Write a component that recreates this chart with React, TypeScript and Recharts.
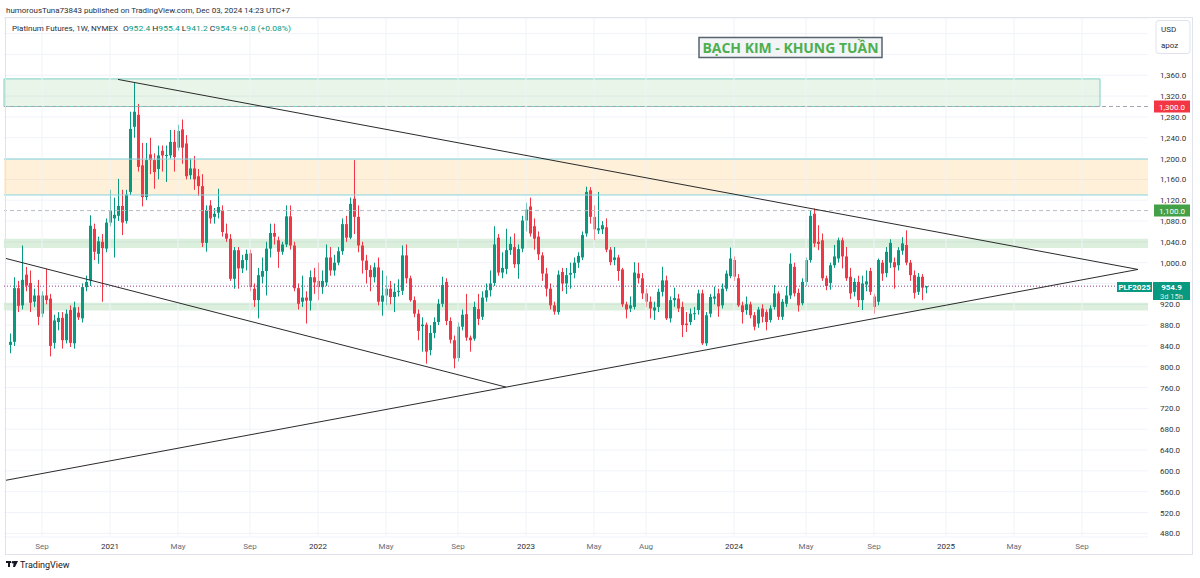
import React from 'react';
import { ComposedChart, Bar, XAxis, YAxis, CartesianGrid, ReferenceLine, ReferenceArea } from 'recharts';

// Weekly Platinum futures candles, first week = 13 Jul 2020 (index 0)
const opens = [
  842, 848, 951, 918, 977, 961, 925, 937, 902, 937,
  931, 846, 886, 894, 851, 909, 845, 904, 893, 953,
  966, 1065, 1017, 1040, 1027, 1077, 1085, 1090, 1109, 1080,
  1136, 1261, 1284, 1187, 1126, 1208, 1197, 1180, 1215, 1205,
  1206, 1232, 1221, 1256, 1229, 1168, 1181, 1166, 1147, 1038,
  1110, 1088, 1096, 1101, 1056, 1046, 969, 1024, 989, 1005,
  1018, 950, 928, 973, 984, 1027, 1057, 1043, 1021, 1035,
  1089, 1033, 951, 925, 933, 927, 972, 965, 953, 962,
  1010, 985, 1000, 1022, 1074, 1048, 1123, 1088, 1033, 1004,
  986, 972, 991, 925, 937, 950, 934, 944, 946, 1014,
  970, 928, 902, 878, 881, 832, 865, 886, 921, 963,
  888, 851, 817, 877, 901, 856, 854, 911, 896, 933,
  947, 961, 1048, 981, 988, 1024, 1030, 997, 1027, 1081,
  1108, 1070, 1050, 1014, 979, 950, 918, 905, 982, 960,
  977, 980, 1000, 1010, 1056, 1139, 1088, 1062, 1064, 1068,
  1025, 1005, 1010, 987, 920, 912, 915, 979, 970, 941,
  925, 908, 915, 944, 966, 893, 928, 931, 915, 883,
  886, 901, 909, 941, 845, 902, 931, 941, 918, 950,
  974, 1005, 970, 918, 909, 920, 899, 883, 912, 905,
  890, 915, 941, 896, 921, 937, 992, 942, 922, 963,
  1005, 1094, 1040, 1043, 970, 961, 995, 1008, 1043, 1012,
  973, 944, 963, 928, 958, 984, 935, 925, 1000, 980,
  1000, 1001, 995, 1023, 1034, 1000, 976, 944, 973, 952.4,
];
const highs = [
  864, 972, 965, 1033, 992, 985, 950, 967, 945, 988,
  940, 900, 905, 905, 910, 918, 925, 915, 960, 975,
  1091, 1075, 1050, 1055, 1085, 1140, 1125, 1161, 1140, 1140,
  1290, 1345, 1305, 1230, 1230, 1240, 1210, 1225, 1225, 1225,
  1255, 1255, 1265, 1275, 1245, 1200, 1205, 1180, 1170, 1110,
  1120, 1105, 1142, 1110, 1075, 1055, 1030, 1030, 1015, 1025,
  1025, 960, 990, 1010, 1040, 1075, 1075, 1050, 1040, 1110,
  1110, 1040, 960, 975, 945, 985, 990, 1000, 985, 1035,
  1030, 1015, 1030, 1085, 1090, 1125, 1197, 1110, 1040, 1015,
  995, 1000, 1010, 985, 975, 965, 960, 968, 1033, 1035,
  975, 935, 910, 895, 885, 880, 895, 930, 973, 970,
  895, 860, 885, 910, 940, 860, 925, 940, 945, 960,
  985, 1070, 1055, 1020, 1065, 1050, 1056, 1035, 1090, 1115,
  1125, 1085, 1060, 1020, 990, 960, 925, 985, 990, 990,
  1000, 1010, 1020, 1060, 1146, 1145, 1110, 1136, 1080, 1085,
  1030, 1030, 1015, 990, 925, 935, 1001, 1000, 980, 950,
  935, 925, 950, 992, 975, 935, 952, 940, 925, 905,
  912, 915, 948, 948, 905, 940, 954, 950, 960, 985,
  1029, 1012, 978, 925, 935, 925, 905, 915, 920, 910,
  918, 957, 945, 930, 955, 1018, 1000, 950, 970, 1010,
  1101, 1104, 1072, 1056, 975, 1000, 1034, 1048, 1048, 1030,
  990, 970, 975, 975, 985, 990, 940, 1008, 1005, 1030,
  1045, 1010, 1030, 1049, 1062, 1005, 985, 980, 978, 955.4,
];
const lows = [
  826, 840, 905, 910, 945, 905, 915, 880, 895, 920,
  820, 835, 870, 835, 845, 838, 835, 890, 885, 945,
  955, 1005, 998, 925, 1020, 1070, 1010, 1080, 1053, 1075,
  1130, 1240, 1175, 1108, 1120, 1170, 1142, 1160, 1175, 1155,
  1200, 1175, 1215, 1190, 1160, 1160, 1140, 1128, 1030, 1021,
  1075, 1075, 1085, 1050, 1040, 965, 950, 950, 980, 985,
  945, 915, 893, 960, 937, 1010, 1035, 990, 1015, 1030,
  1025, 945, 910, 915, 883, 908, 940, 928, 940, 955,
  975, 975, 995, 1015, 1040, 1045, 1055, 1020, 979, 960,
  945, 962, 918, 898, 918, 920, 905, 935, 938, 960,
  925, 895, 851, 829, 806, 822, 855, 880, 915, 880,
  845, 797, 810, 870, 850, 829, 850, 880, 890, 925,
  935, 955, 975, 970, 978, 1015, 990, 969, 1020, 1060,
  1050, 1025, 1005, 965, 935, 910, 900, 900, 945, 940,
  950, 970, 990, 1005, 1050, 1075, 1043, 1055, 1055, 1020,
  995, 995, 965, 915, 893, 905, 910, 960, 930, 915,
  893, 890, 905, 935, 890, 885, 915, 905, 857, 867,
  880, 890, 900, 842, 840, 895, 920, 896, 912, 945,
  970, 965, 915, 883, 900, 893, 870, 875, 885, 870,
  885, 910, 890, 890, 915, 930, 935, 906, 918, 955,
  1000, 1030, 1024, 965, 947, 948, 990, 1000, 989, 965,
  930, 935, 915, 909, 945, 938, 902, 918, 965, 972,
  990, 950, 985, 1015, 995, 965, 931, 938, 928, 941.2,
];
const closes = [
  848, 951, 917, 967, 956, 923, 937, 896, 937, 928,
  840, 889, 894, 851, 902, 846, 914, 895, 953, 963,
  1071, 1021, 1041, 1028, 1077, 1100, 1092, 1109, 1077, 1131,
  1257, 1290, 1184, 1126, 1197, 1197, 1174, 1206, 1206, 1207,
  1232, 1203, 1253, 1221, 1166, 1181, 1160, 1147, 1038, 1101,
  1085, 1094, 1107, 1059, 1046, 969, 1024, 989, 1005, 1017,
  953, 928, 976, 984, 1027, 1057, 1050, 1021, 1035, 1089,
  1033, 951, 921, 933, 927, 972, 962, 953, 965, 1010,
  985, 1000, 1022, 1074, 1048, 1113, 1088, 1033, 1004, 986,
  972, 991, 925, 937, 950, 934, 944, 946, 1014, 970,
  928, 902, 869, 881, 829, 865, 886, 921, 957, 888,
  852, 816, 877, 900, 856, 851, 915, 892, 933, 947,
  960, 1035, 981, 990, 1024, 1036, 997, 1026, 1081, 1102,
  1056, 1046, 1016, 979, 950, 918, 906, 977, 960, 976,
  980, 1000, 1013, 1053, 1136, 1088, 1064, 1066, 1072, 1025,
  1001, 1010, 984, 920, 910, 918, 981, 970, 941, 925,
  912, 914, 944, 966, 893, 928, 932, 912, 880, 880,
  902, 903, 941, 845, 899, 934, 935, 916, 950, 979,
  1008, 973, 918, 905, 920, 899, 877, 910, 896, 886,
  912, 941, 896, 925, 937, 998, 941, 918, 963, 1005,
  1090, 1037, 1036, 970, 955, 995, 1012, 1043, 1012, 970,
  941, 963, 928, 960, 964, 944, 915, 1005, 979, 1021,
  1038, 991, 1024, 1037, 1000, 976, 942, 973, 952, 954.9,
];

const monthTicks = [8, 25, 42, 60, 77, 94, 112, 129, 146, 159, 181, 199, 216, 234, 251, 268];
const monthLabels = ['Sep', '2021', 'May', 'Sep', '2022', 'May', 'Sep', '2023', 'May', 'Aug', '2024', 'May', 'Sep', '2025', 'May', 'Sep'];
const priceTicks = [480, 520, 560, 600, 640, 680, 720, 760, 800, 840, 880, 920, 960, 1000, 1040, 1080, 1120, 1160, 1200, 1240, 1280, 1320, 1360, 1400, 1440];
// price-scale labels hidden behind the overlays (USD box, last-price box)
const hiddenPriceLabels = [960, 1400, 1440];

// support / resistance zones (price values)
const topBox = [1300, 1353];
const orangeZone = [1130, 1199];
const midBand = [1028, 1046];
const lowBand = [908, 923];
// trend line anchor points [weekIndex, price]
const upperTrend = [[27, 1352], [282, 987]];
const lowerTrend = [[-1, 582], [282, 987]];
const fallingTrend = [[-1, 1008], [124, 761]];

const FIRST_SLOT = -1;
const LAST_SLOT = 284;

const data: any[] = [];
for (let i = FIRST_SLOT; i <= LAST_SLOT; i++) {
  const has = i >= 0 && i < closes.length;
  data.push({
    i,
    o: has ? opens[i] : null,
    h: has ? highs[i] : null,
    l: has ? lows[i] : null,
    c: has ? closes[i] : null,
    range: has ? [lows[i], highs[i]] : null,
  });
}

const UP = '#089981';
const DOWN = '#f23645';
const FONT = 'Roboto, "Liberation Sans", sans-serif';

const Candle = (props: any) => {
  const { x, y, width, height, payload } = props;
  if (!payload || payload.o == null || x == null || y == null) return null;
  const { o, h, l, c } = payload;
  const top = Math.min(y, y + height);
  const bot = Math.max(y, y + height);
  const span = h - l;
  const ratio = span > 0 ? (bot - top) / span : 0;
  const yO = top + (h - o) * ratio;
  const yC = top + (h - c) * ratio;
  const color = c >= o ? UP : DOWN;
  const cx = x + width / 2;
  const bx = Math.round(cx - 1.5);
  const bTop = Math.min(yO, yC);
  const bH = Math.max(1, Math.abs(yC - yO));
  return (
    <g>
      <line x1={bx + 1.5} x2={bx + 1.5} y1={top} y2={bot} stroke={color} strokeWidth={1} />
      <rect x={bx} y={bTop} width={3} height={bH} fill={color} />
    </g>
  );
};

const XTick = (props: any) => {
  const { x, payload } = props;
  const idx = monthTicks.indexOf(payload.value);
  const label = idx >= 0 ? monthLabels[idx] : '';
  const isYear = /^\d+$/.test(label);
  return (
    <text x={x} y={549} textAnchor="middle" fontSize={8} fontFamily={FONT} fill={isYear ? '#2a2e39' : '#6a6d78'}>
      {label}
    </text>
  );
};

const fmt = (v: number) => v.toLocaleString('en-US', { minimumFractionDigits: 1, maximumFractionDigits: 1 });

const YTick = (props: any) => {
  const { y, payload } = props;
  if (hiddenPriceLabels.indexOf(payload.value) >= 0) return <g />;
  return (
    <text x={1160} y={y + 3} textAnchor="start" fontSize={8} fontFamily={FONT} fill="#333">
      {fmt(payload.value)}
    </text>
  );
};

export default function App() {
  return (
    <div style={{ position: 'relative', width: 1200, height: 578, background: '#fff' }}>
      <style>{`body{margin:0;background:#fff}`}</style>
      <div style={{ position: 'absolute', left: 0, top: 0 }}>
        <ComposedChart width={1200} height={578} data={data} margin={{ top: 18, right: 7, bottom: 23, left: 4 }}>
          <CartesianGrid stroke="#f0f3fa" vertical={false} />
          <XAxis
            dataKey="i"
            type="category"
            ticks={monthTicks}
            interval={0}
            axisLine={false}
            tickLine={false}
            height={18}
            tick={<XTick />}
          />
          <YAxis
            orientation="right"
            type="number"
            domain={[473, 1470]}
            ticks={priceTicks}
            interval={0}
            axisLine={false}
            tickLine={false}
            width={45}
            tick={<YTick />}
          />
          {monthTicks.map((t) => (
            <ReferenceLine key={'v' + t} x={t} stroke="#f0f3fa" strokeWidth={1} />
          ))}
          <ReferenceArea y1={orangeZone[0]} y2={orangeZone[1]} fill="#ff9800" fillOpacity={0.15} stroke="none" />
          <ReferenceArea y1={midBand[0]} y2={midBand[1]} fill="#4caf50" fillOpacity={0.2} stroke="none" />
          <ReferenceArea y1={lowBand[0]} y2={lowBand[1]} fill="#4caf50" fillOpacity={0.2} stroke="none" />
          <ReferenceArea x1={-1} x2={272} y1={topBox[0]} y2={topBox[1]} fill="#4caf50" fillOpacity={0.13} stroke="#7ccfc6" strokeWidth={1} />
          <ReferenceLine y={orangeZone[1]} stroke="#86d3df" strokeWidth={1} />
          <ReferenceLine y={orangeZone[0]} stroke="#86d3df" strokeWidth={1} />
          <ReferenceLine y={1300} stroke="#a3a6af" strokeDasharray="4 3" />
          <ReferenceLine y={1100} stroke="#b8bbc3" strokeDasharray="4 3" />
          <Bar dataKey="range" barSize={3} isAnimationActive={false} shape={<Candle />} />
          <ReferenceLine y={closes[closes.length - 1]} stroke="#8e3a8e" strokeDasharray="1 2" />
          <ReferenceLine segment={[{ x: upperTrend[0][0], y: upperTrend[0][1] }, { x: upperTrend[1][0], y: upperTrend[1][1] }]} stroke="#2a2a2a" strokeWidth={1} />
          <ReferenceLine segment={[{ x: lowerTrend[0][0], y: lowerTrend[0][1] }, { x: lowerTrend[1][0], y: lowerTrend[1][1] }]} stroke="#2a2a2a" strokeWidth={1} />
          <ReferenceLine segment={[{ x: fallingTrend[0][0], y: fallingTrend[0][1] }, { x: fallingTrend[1][0], y: fallingTrend[1][1] }]} stroke="#2a2a2a" strokeWidth={1} />
        </ComposedChart>
      </div>
      <svg width={1200} height={578} style={{ position: 'absolute', left: 0, top: 0, pointerEvents: 'none' }} fontFamily={FONT}>
        <text x={6} y={13} fontSize={8} fill="#2a2e39" textLength={284} lengthAdjust="spacingAndGlyphs">
          humorousTuna73843 published on TradingView.com, Dec 03, 2024 14:23 UTC+7
        </text>
        <rect x={5.5} y={17.5} width={1187} height={537} fill="none" stroke="#e0e3eb" />
        <text x={12} y={31} fontSize={8} fill="#2a2e39" textLength={106} lengthAdjust="spacingAndGlyphs">
          Platinum Futures, 1W, NYMEX
        </text>
        <text x={123} y={31} fontSize={8} fill={UP} textLength={168} lengthAdjust="spacingAndGlyphs">
          <tspan fill="#2a2e39">O</tspan>952.4 <tspan fill="#2a2e39">H</tspan>955.4 <tspan fill="#2a2e39">L</tspan>941.2 <tspan fill="#2a2e39">C</tspan>954.9 +0.8 (+0.08%)
        </text>
        <rect x={699} y={37.5} width={183} height={20} fill="#f3f4f6" stroke="#56646f" strokeWidth={1.5} />
        <text x={790.5} y={53} fontSize={15} fontWeight={700} fill="#4caf50" textAnchor="middle" fontFamily='"Open Sans", sans-serif' textLength={176} lengthAdjust="spacingAndGlyphs">
          BẠCH KIM - KHUNG TUẦN
        </text>
        <rect x={1156} y={20.5} width={34} height={33} rx={3} fill="#fff" stroke="#e0e3eb" />
        <text x={1161} y={32} fontSize={8} fill="#2a2e39">USD</text>
        <text x={1161} y={48} fontSize={8} fill="#2a2e39">apoz</text>
        <rect x={1154} y={100.5} width={36} height={12} fill={DOWN} />
        <text x={1172} y={109.5} fontSize={8} fill="#fff" textAnchor="middle">1,300.0</text>
        <rect x={1154} y={204.5} width={36} height={12} fill="#43a047" />
        <text x={1172} y={213.5} fontSize={8} fill="#fff" textAnchor="middle">1,100.0</text>
        <rect x={1117} y={282} width={35} height={10} fill={UP} />
        <text x={1134.5} y={290} fontSize={8} fontWeight={700} fill="#fff" textAnchor="middle">PLF2025</text>
        <rect x={1153} y={282} width={37} height={18} fill={UP} />
        <text x={1171.5} y={290} fontSize={8} fontWeight={700} fill="#fff" textAnchor="middle">954.9</text>
        <text x={1171.5} y={298.5} fontSize={7.5} fill="#d4f0ea" textAnchor="middle">3d 15h</text>
        <g transform="translate(6,561)">
          <rect x={0} y={0} width={5} height={2} fill="#131722" />
          <rect x={2} y={0} width={2} height={6} fill="#131722" />
          <circle cx={7} cy={1.3} r={1.3} fill="#131722" />
          <path d="M8 0 L12 0 L9 6 L7 6 Z" fill="#131722" />
        </g>
        <text x={20} y={568} fontSize={9} fill="#131722">TradingView</text>
      </svg>
    </div>
  );
}
